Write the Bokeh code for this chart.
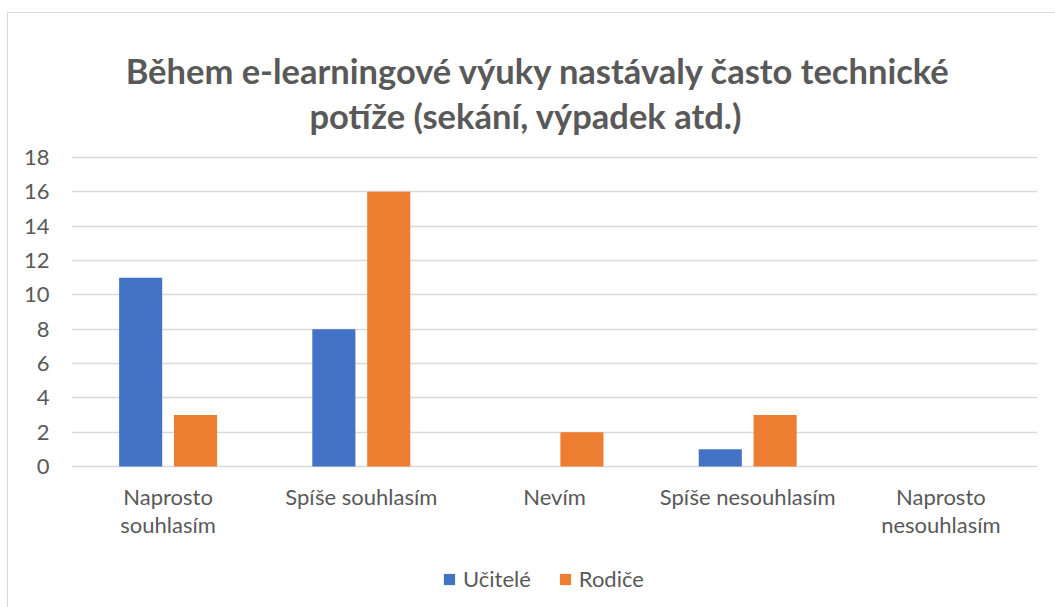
from bokeh.plotting import figure
from bokeh.models import ColumnDataSource, FactorRange, Range1d, Legend, LegendItem, FixedTicker, Label
from bokeh.transform import dodge
from bokeh.embed import file_html
from bokeh.resources import INLINE

categories = ["Naprosto\nsouhlasím", "Spíše souhlasím", "Nevím", "Spíše nesouhlasím", "Naprosto\nnesouhlasím"]
ucitele = [11, 8, 0, 1, 0]
rodice = [3, 16, 2, 3, 0]
y_ticks = [0, 2, 4, 6, 8, 10, 12, 14, 16, 18]
series_names = ["Učitelé", "Rodiče"]
title_lines = ["Během e-learningové výuky nastávaly často technické", "potíže (sekání, výpadek atd.)"]

BLUE = "#4472C4"
ORANGE = "#ED7D31"
GRAY_TXT = "#595959"
GRID = "#D9D9D9"
FONT = "Lato"

# layout (pixels): frame spans the whole drawing height; value axis 0..18 maps to 309 px
PX_PER_UNIT = 309 / 18
Y_TOP = (466 - 13) / PX_PER_UNIT
Y_BOTTOM = -(607 - 466) / PX_PER_UNIT

src = ColumnDataSource(dict(cat=categories, ucitele=ucitele, rodice=rodice))

p = figure(x_range=FactorRange(*categories), y_range=Range1d(Y_BOTTOM, Y_TOP),
           frame_width=966, frame_height=594, output_backend="svg", toolbar_location=None,
           min_border_left=63, min_border_right=18, min_border_top=0, min_border_bottom=0)
p.styles = {"margin-left": "7px", "margin-top": "12px",
            "border-left": "1px solid #D9D9D9", "border-top": "1px solid #D9D9D9"}
p.outline_line_color = None
p.title.visible = False

r1 = p.vbar(x=dodge("cat", -0.142, range=p.x_range), top="ucitele", width=0.223, source=src,
            fill_color=BLUE, line_color=None)
r2 = p.vbar(x=dodge("cat", 0.142, range=p.x_range), top="rodice", width=0.223, source=src,
            fill_color=ORANGE, line_color=None)

for txt, cx, by in ((title_lines[0], 2.417, (466 - 70) / PX_PER_UNIT),
                    (title_lines[1], 2.352, (466 - 115) / PX_PER_UNIT)):
    p.add_layout(Label(x=cx, y=by, text=txt, text_align="center", text_baseline="alphabetic",
                       text_font=FONT, text_font_style="bold", text_font_size="34.5px",
                       text_color=GRAY_TXT))

p.xgrid.grid_line_color = None
p.ygrid.grid_line_color = GRID
p.ygrid.grid_line_width = 1.5
p.yaxis.ticker = FixedTicker(ticks=y_ticks)
p.ygrid.ticker = FixedTicker(ticks=y_ticks)

for ax in (p.xaxis[0], p.yaxis[0]):
    ax.axis_line_color = None
    ax.major_tick_line_color = None
    ax.minor_tick_line_color = None
    ax.major_label_text_font = FONT
    ax.major_label_text_font_size = "22px"
    ax.major_label_text_color = GRAY_TXT
p.xaxis.fixed_location = 0
p.yaxis.major_label_standoff = 16
p.xaxis.major_label_standoff = 10
p.xaxis.major_label_text_line_height = 1.05
p.xaxis.major_label_orientation = "horizontal"

legend = Legend(items=[LegendItem(label=series_names[0], renderers=[r1]),
                       LegendItem(label=series_names[1], renderers=[r2])],
                orientation="horizontal", location=(371, 15),
                border_line_color=None, background_fill_alpha=0,
                glyph_width=14, glyph_height=14, label_standoff=7, spacing=27,
                label_text_font=FONT, label_text_font_size="22px", label_text_color=GRAY_TXT,
                padding=0, margin=0)
p.add_layout(legend, "center")

open("out.html", "w").write(file_html(p, INLINE))
